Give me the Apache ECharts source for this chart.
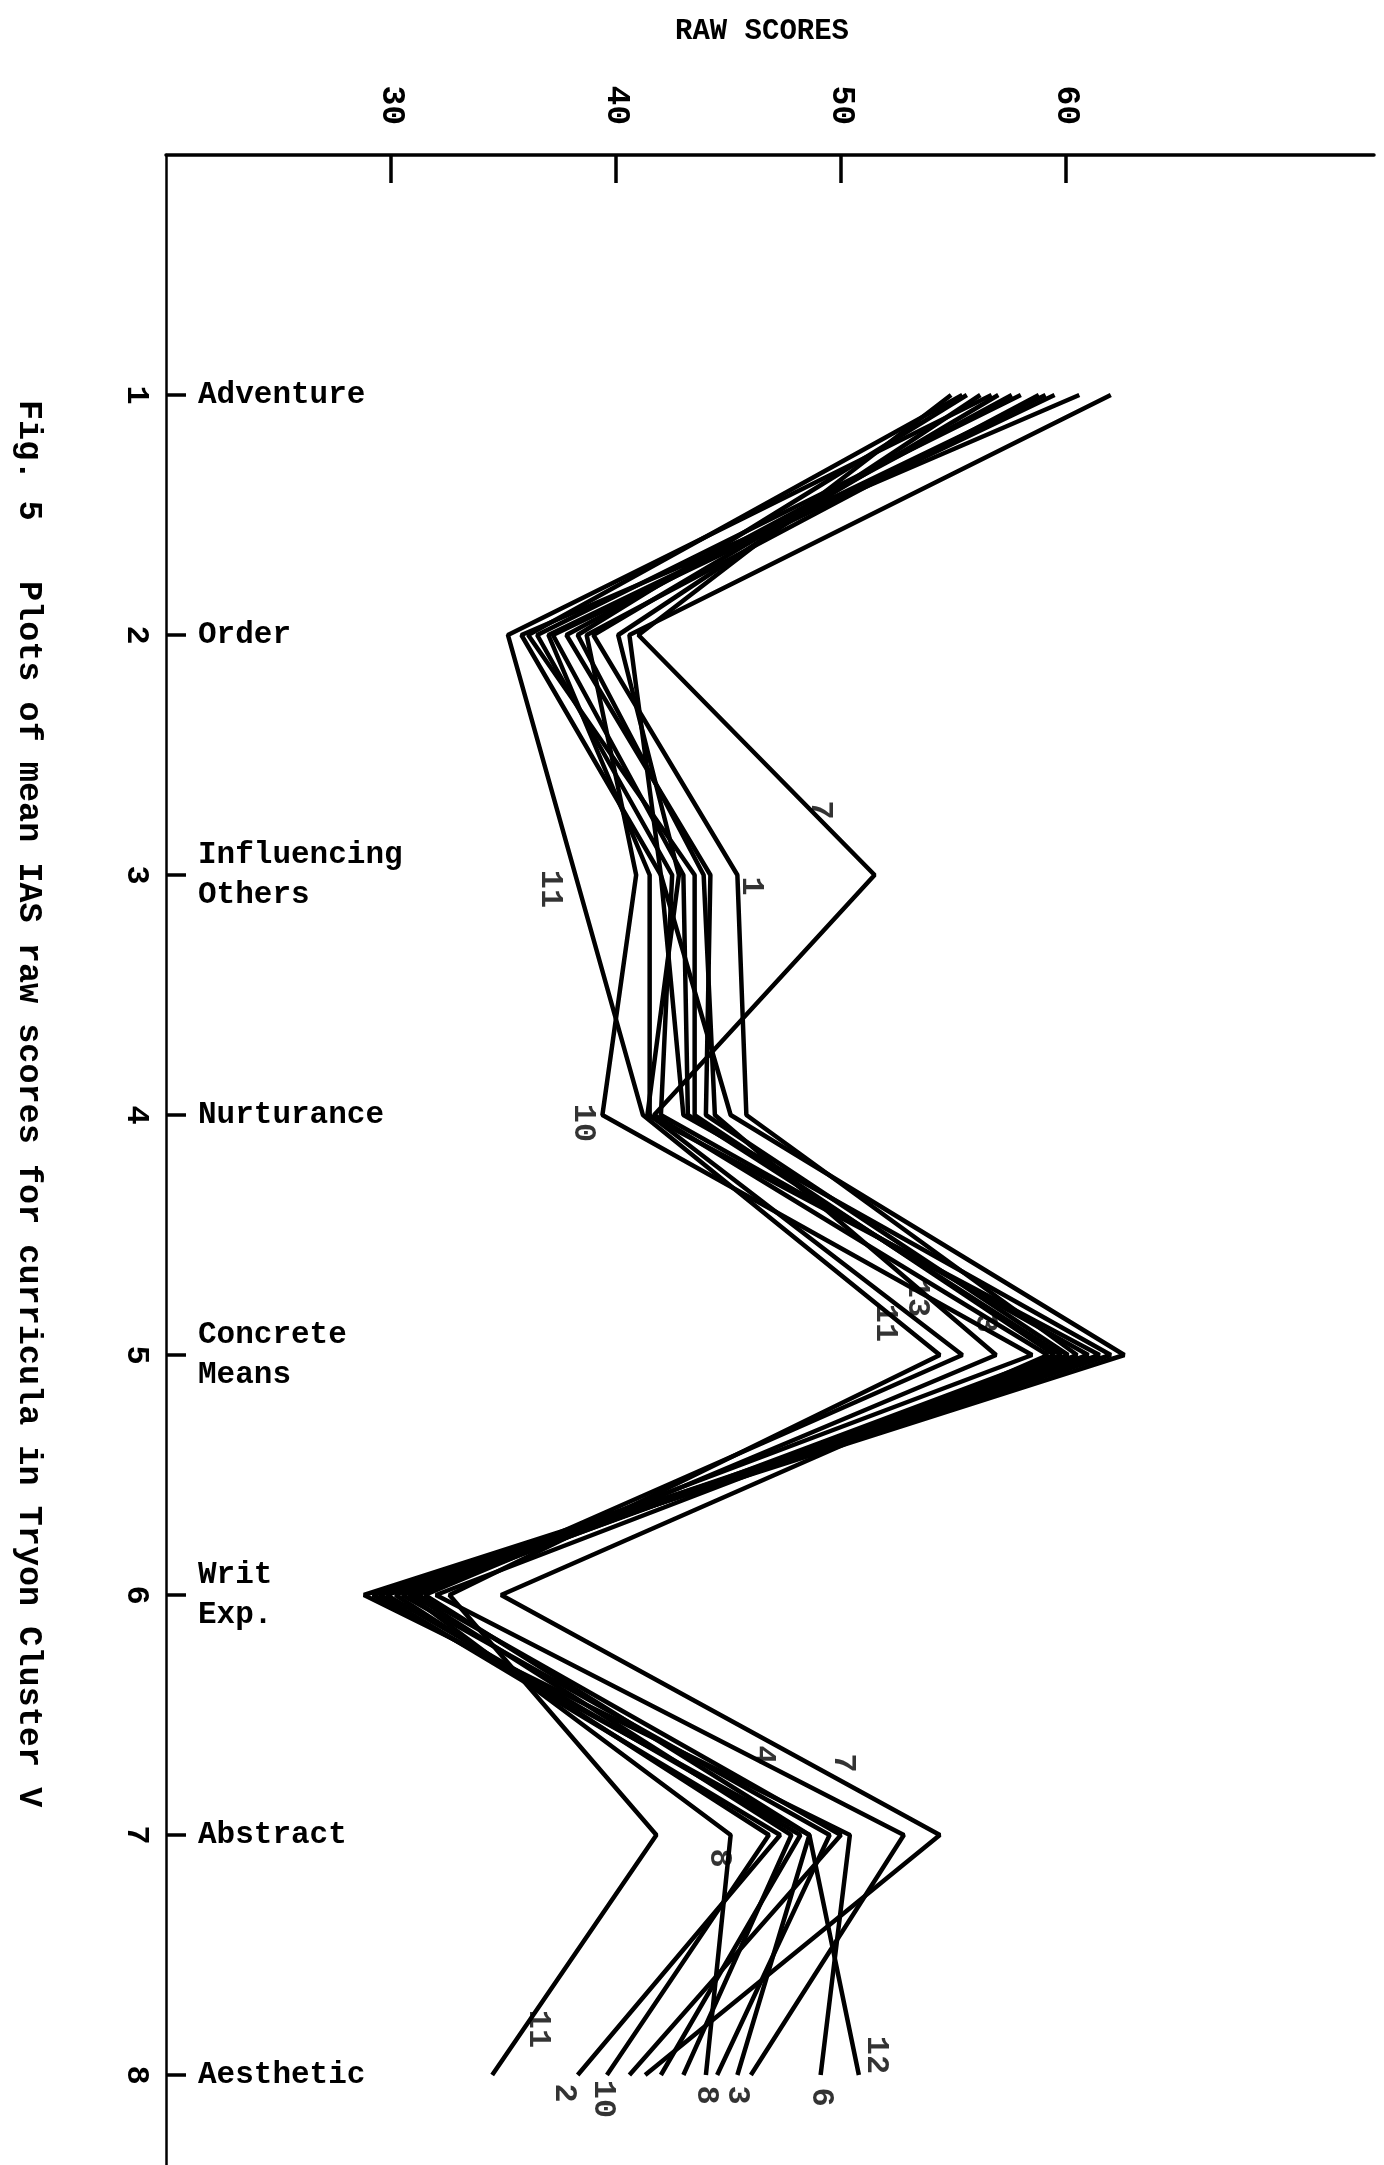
<!DOCTYPE html>
<html>
<head>
<meta charset="utf-8">
<script src="https://cdn.jsdelivr.net/npm/echarts@6/dist/echarts.min.js"></script>
<style>
  html, body { margin: 0; padding: 0; background: #fff; }
  #chart { width: 1384px; height: 2165px; }
</style>
</head>
<body>
<div id="chart"></div>
<script>
var myChart = echarts.init(document.getElementById('chart'));

// IAS scales, top to bottom
var categories = ['Adventure', 'Order', 'Influencing\nOthers', 'Nurturance',
    'Concrete\nMeans', 'Writ\nExp.', 'Abstract', 'Aesthetic'];
var scaleNums = [1, 2, 3, 4, 5, 6, 7, 8];
var scoreTicks = [30, 40, 50, 60];

// mean raw scores per curriculum
var c1  = [57.0, 39.0, 45.4, 45.8, 60.5, 30.5, 49.5, 44.5];
var c2  = [58.0, 36.5, 42.5, 42.0, 61.0, 29.5, 47.3, 38.3];
var c3  = [55.6, 38.3, 43.9, 44.4, 56.9, 31.5, 48.6, 45.4];
var c4  = [59.5, 37.2, 43.0, 43.2, 59.8, 32.0, 52.8, 46.0];
var c5  = [56.2, 40.1, 42.8, 41.4, 61.5, 29.8, 48.2, 42.0];
var c6  = [60.6, 35.8, 42.0, 43.0, 62.0, 28.8, 50.4, 49.1];
var c7  = [54.9, 41.0, 51.5, 41.7, 59.2, 34.9, 54.4, 41.3];
var c8  = [57.6, 37.8, 44.2, 44.0, 60.1, 30.8, 45.1, 44.0];
var c9  = [55.4, 36.1, 43.5, 43.5, 59.5, 31.0, 47.8, 43.0];
var c10 = [58.8, 38.7, 40.9, 39.4, 58.5, 30.2, 46.8, 39.6];
var c11 = [56.7, 35.2, 38.2, 41.2, 54.4, 32.6, 41.8, 34.5];
var c12 = [62.0, 40.6, 42.0, 45.1, 62.6, 29.2, 48.6, 50.8];
var c13 = [59.1, 37.0, 41.5, 41.5, 55.4, 31.2, 50.0, 40.6];
var curricula = [c1, c2, c3, c4, c5, c6, c7, c8, c9, c10, c11, c12, c13];

// where the hand-written curriculum numbers sit: curriculum, scale index, screen offset
var tags = [
    [7, 2, -55, -65], [11, 2, -25, 14], [1, 2, 14, 11],
    [10, 3, -19, 8],
    [11, 4, -55, -32], [13, 4, -45, -57], [3, 4, -11, -32],
    [4, 6, -141, -80], [7, 6, -97, -72], [8, 6, -12, 23],
    [11, 7, 46, -46], [2, 7, -14, 18], [10, 7, -4, 24], [8, 7, 0, 20],
    [3, 7, 0, 20], [6, 7, 0, 22], [12, 7, 17, -20]
];

var font = 'Liberation Mono';

var series = curricula.map(function (vals, i) {
    return {
        name: String(i + 1),
        type: 'line',
        data: vals.map(function (v, j) { return [v, scaleNums[j]]; }),
        showSymbol: false,
        lineStyle: {color: '#000', width: 4.5},
        emphasis: {disabled: true},
        animation: false,
        z: 2
    };
});

series.push({
    type: 'scatter',
    symbolSize: 2,
    itemStyle: {color: 'rgba(0,0,0,0)'},
    animation: false,
    silent: true,
    z: 5,
    data: tags.map(function (t) {
        return {
            value: [curricula[t[0] - 1][t[1]], scaleNums[t[1]]],
            label: {
                show: true,
                position: 'inside',
                formatter: String(t[0]),
                // offset is applied in the rotated label frame
                offset: [t[3], -t[2]],
                rotate: -90,
                color: '#000',
                textBorderWidth: 0,
                fontFamily: font,
                fontWeight: 'bold',
                fontSize: 32
            }
        };
    })
});

var option = {
    backgroundColor: '#fff',
    title: {
        text: 'RAW SCORES',
        left: 757,
        top: 12,
        textAlign: 'center',
        textStyle: {fontFamily: font, fontWeight: 'bold', fontSize: 29, color: '#000'}
    },
    graphic: [{
        type: 'text',
        x: 28,
        y: 400,
        rotation: -Math.PI / 2,
        style: {
            text: 'Fig. 5   Plots of mean IAS raw scores for curricula in Tryon Cluster V',
            fontFamily: font,
            fontWeight: 'bold',
            fontSize: 33.5,
            fill: '#000',
            textAlign: 'left',
            textVerticalAlign: 'middle'
        }
    }],
    grid: {left: 166, top: 155, width: 1208, height: 2010},
    xAxis: {
        type: 'value',
        position: 'top',
        min: 20,
        max: 73.7,
        splitLine: {show: false},
        axisLine: {show: true, lineStyle: {color: '#000', width: 3.5}},
        axisTick: {show: true, inside: true, length: 28, customValues: scoreTicks,
            lineStyle: {color: '#000', width: 3.5}},
        axisLabel: {
            customValues: scoreTicks,
            rotate: -90,
            margin: 30,
            color: '#000',
            fontFamily: font,
            fontWeight: 'bold',
            fontSize: 33
        }
    },
    yAxis: [{
        type: 'value',
        inverse: true,
        min: 0,
        max: 8.375,
        position: 'left',
        splitLine: {show: false},
        axisLine: {show: true, lineStyle: {color: '#000', width: 2.5}},
        axisTick: {show: false},
        axisLabel: {
            customValues: scaleNums,
            rotate: -90,
            margin: 14,
            color: '#000',
            fontFamily: font,
            fontWeight: 'bold',
            fontSize: 32
        }
    }, {
        type: 'value',
        inverse: true,
        min: 0,
        max: 8.375,
        position: 'left',
        offset: 0,
        splitLine: {show: false},
        axisLine: {show: false},
        axisTick: {show: true, inside: true, length: 20, customValues: scaleNums,
            lineStyle: {color: '#000', width: 3.5}},
        axisLabel: {
            customValues: scaleNums,
            inside: true,
            margin: 32,
            color: '#000',
            fontFamily: font,
            fontWeight: 'bold',
            fontSize: 31,
            lineHeight: 40,
            formatter: function (v) { return categories[v - 1]; }
        }
    }],
    series: series
};

myChart.setOption(option);
</script>
</body>
</html>
